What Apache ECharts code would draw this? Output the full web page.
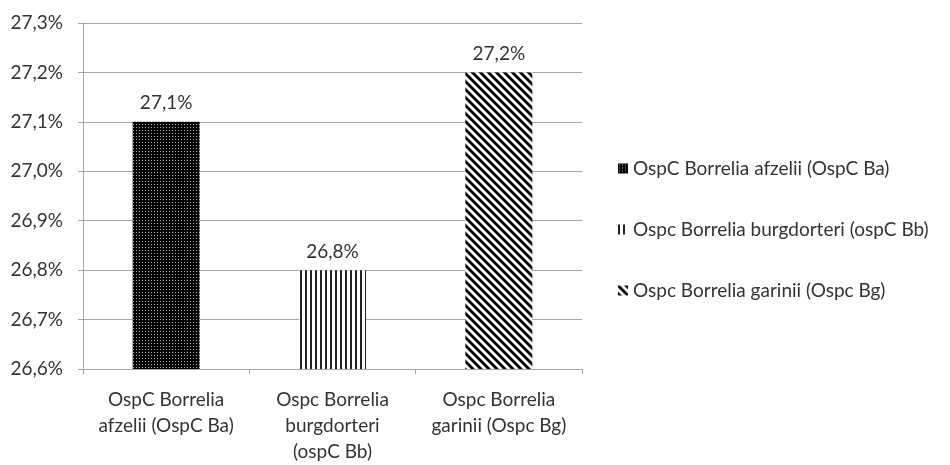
<!DOCTYPE html>
<html>
<head>
<meta charset="utf-8">
<script src="https://cdn.jsdelivr.net/npm/echarts@6/dist/echarts.min.js"></script>
<style>
  html, body { margin: 0; padding: 0; background: #fff; }
  #chart { width: 950px; height: 465px; }
</style>
</head>
<body>
<div id="chart"></div>
<script>
// data
const categories = [
  'OspC Borrelia\nafzelii (OspC Ba)',
  'Ospc Borrelia\nburgdorteri\n(ospC Bb)',
  'Ospc Borrelia\ngarinii (Ospc Bg)'
]
const seriesNames = [
  'OspC Borrelia afzelii (OspC Ba)',
  'Ospc Borrelia burgdorteri (ospC Bb)',
  'Ospc Borrelia garinii (Ospc Bg)'
]
const values = [27.1, 26.8, 27.2]

// pattern tiles
const makeTile = (w, h, draw) => {
  const c = document.createElement('canvas')
  c.width = w
  c.height = h
  draw(c.getContext('2d'), w, h)
  return c
}

const dotTile = makeTile(3, 3, (ctx, w, h) => {
  ctx.fillStyle = '#000'
  ctx.fillRect(0, 0, w, h)
  ctx.fillStyle = '#b0b0b0'
  ctx.fillRect(1, 1, 1, 1)
})

const vertTile = makeTile(5, 5, (ctx, w, h) => {
  ctx.fillStyle = '#fff'
  ctx.fillRect(0, 0, w, h)
  ctx.fillStyle = '#222'
  ctx.fillRect(0, 0, 2, h)
})

const diagTile = makeTile(8, 8, (ctx, w, h) => {
  ctx.fillStyle = '#fff'
  ctx.fillRect(0, 0, w, h)
  ctx.strokeStyle = '#000'
  ctx.lineWidth = 2.8
  for (let k = -1; k <= 1; k++) {
    ctx.beginPath()
    ctx.moveTo(k * 8 - 1, -1)
    ctx.lineTo(k * 8 + 9, 9)
    ctx.stroke()
  }
})

const patterns = [dotTile, vertTile, diagTile].map(t => ({ image: t, repeat: 'repeat' }))

const font = 'Lato, "Open Sans", sans-serif'
const fs = 19
const textColor = '#333'
const fmt = v => v.toFixed(1).replace('.', ',') + '%'

const chart = echarts.init(document.getElementById('chart'))

chart.setOption({
  animation: false,
  textStyle: { fontFamily: font },
  grid: { left: 83, right: 368, top: 23, bottom: 93 },
  legend: {
    orient: 'vertical',
    left: 613,
    top: 154,
    itemWidth: 10,
    itemHeight: 10,
    itemGap: 42,
    icon: 'rect',
    textStyle: { fontSize: fs, color: textColor, fontFamily: font },
    data: seriesNames
  },
  xAxis: {
    type: 'category',
    data: categories,
    axisLine: { lineStyle: { color: '#a6a6a6' } },
    axisTick: { show: true, length: 5, lineStyle: { color: '#a6a6a6' } },
    axisLabel: {
      fontSize: fs,
      color: textColor,
      lineHeight: 26,
      margin: 18,
      interval: 0,
      align: 'center'
    }
  },
  yAxis: {
    type: 'value',
    min: 26.6,
    max: 27.3,
    interval: 0.1,
    axisLine: { show: true, lineStyle: { color: '#a6a6a6' } },
    axisTick: { show: true, length: 5, lineStyle: { color: '#a6a6a6' } },
    splitLine: { lineStyle: { color: '#a6a6a6' } },
    axisLabel: {
      fontSize: fs,
      color: textColor,
      margin: 20,
      formatter: v => fmt(v)
    }
  },
  series: seriesNames.map((name, i) => ({
    name,
    type: 'bar',
    barWidth: 67,
    barGap: '-100%',
    data: values.map((v, j) => (j === i ? v : '-')),
    itemStyle: { color: patterns[i] },
    label: {
      show: true,
      position: 'top',
      distance: 9,
      fontSize: fs,
      color: textColor,
      fontFamily: font,
      formatter: p => fmt(p.value)
    }
  }))
})
</script>
</body>
</html>
